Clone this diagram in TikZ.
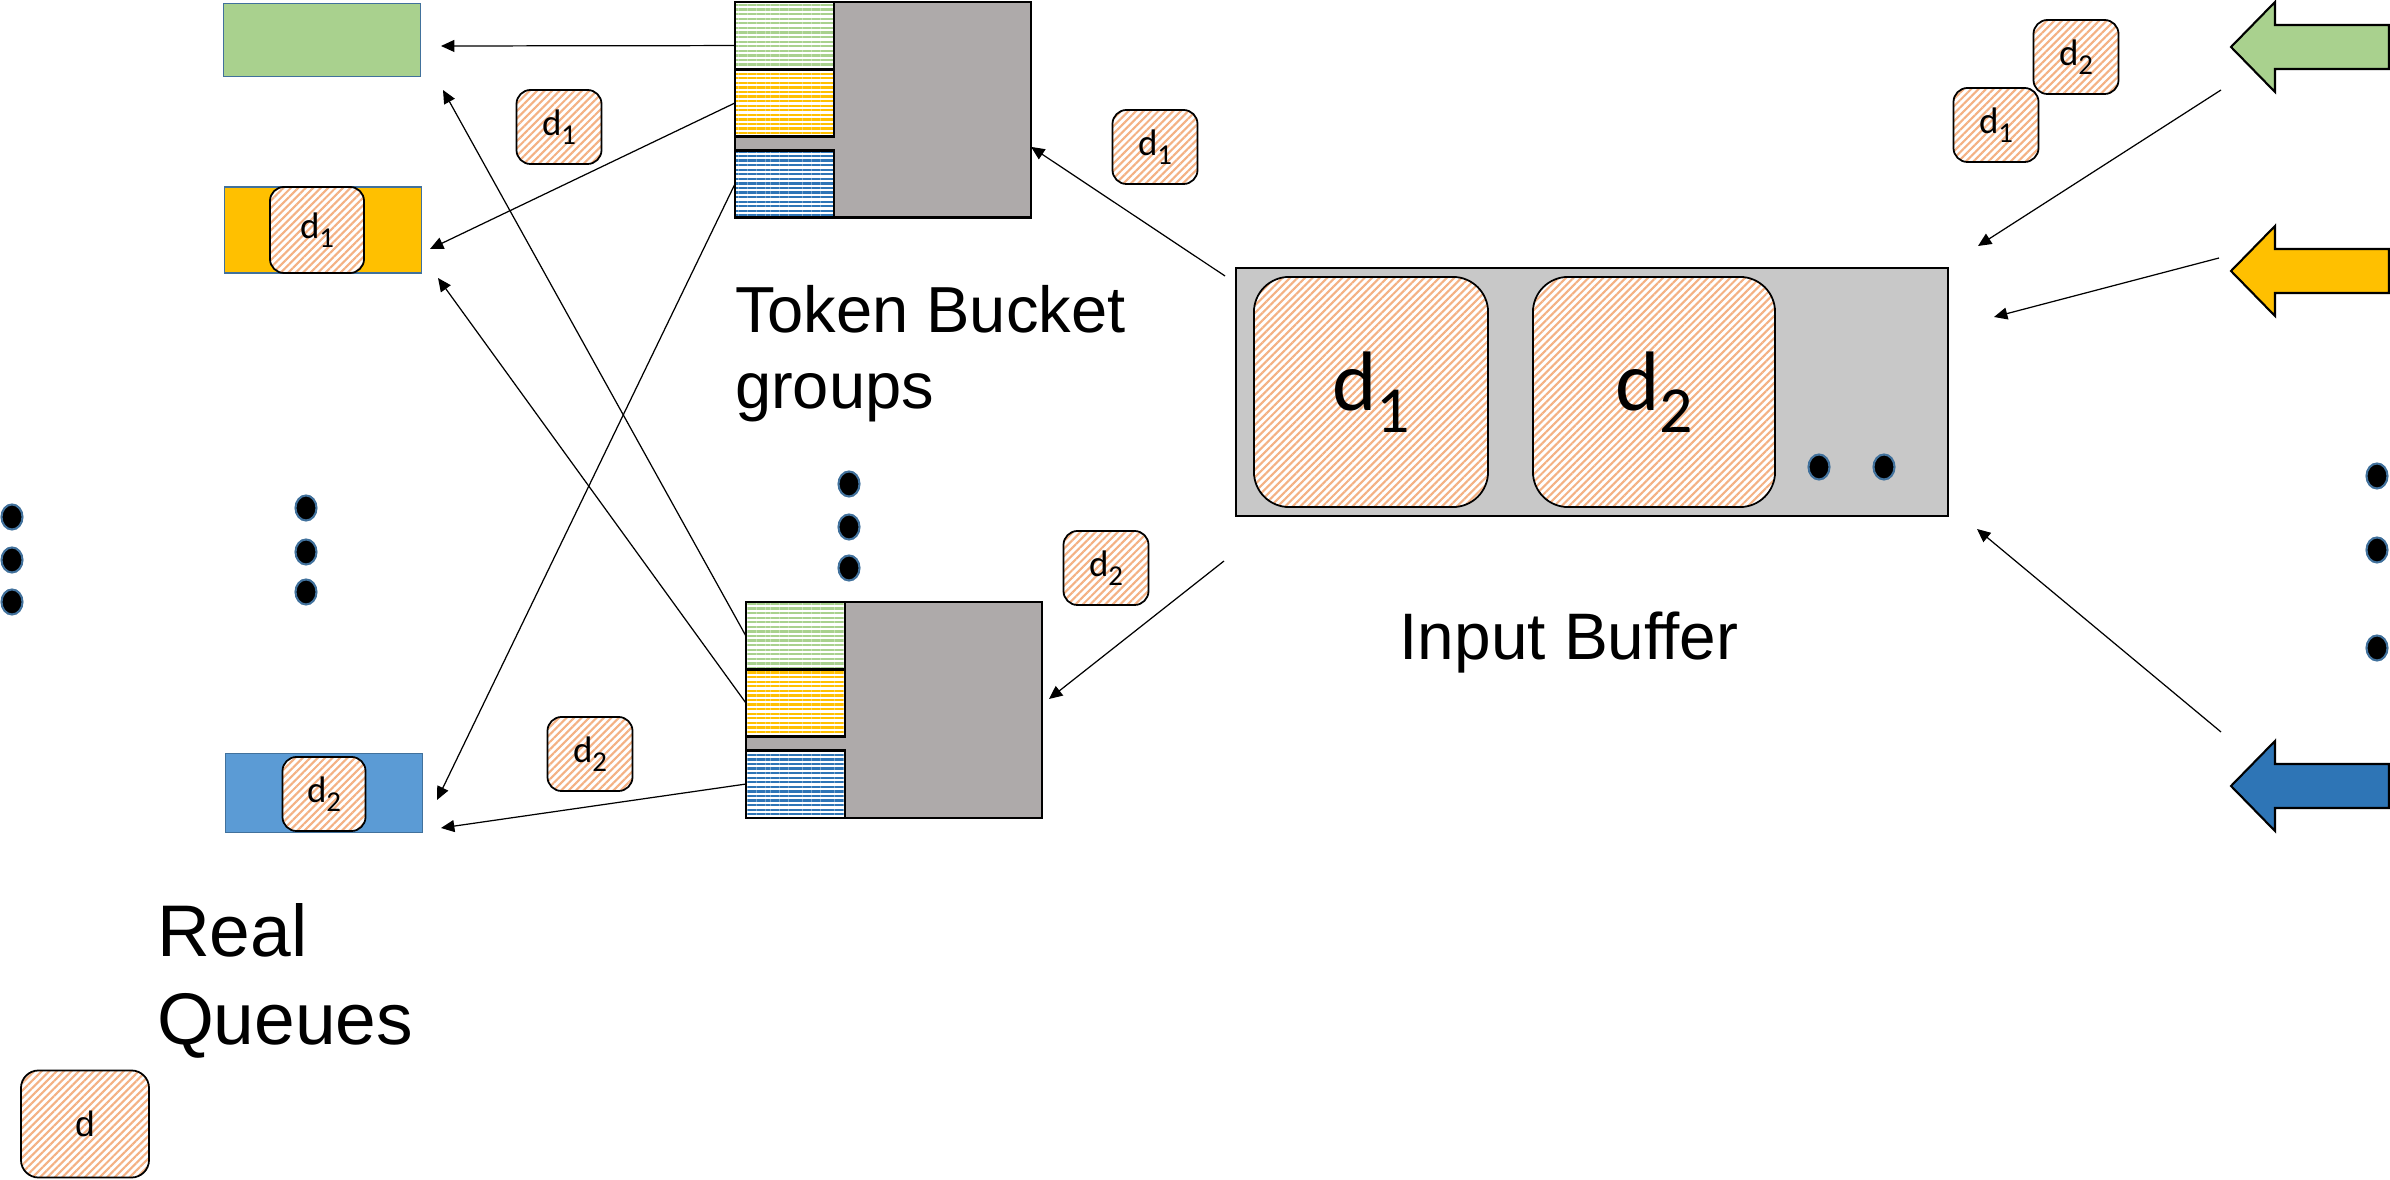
\documentclass[tikz,border=0pt]{standalone}
\usepackage{fontspec}
\setmainfont{Liberation Sans}
\newfontfamily\chipfont{Carlito}
\usepackage{tikz}
\usetikzlibrary{positioning}
\usetikzlibrary{arrows.meta}
\usetikzlibrary{shapes}
\usetikzlibrary{patterns.meta}

\definecolor{qgreen}{HTML}{A9D18E}
\definecolor{qyellow}{HTML}{FFC000}
\definecolor{qblue}{HTML}{5B9BD5}
\definecolor{qborder}{HTML}{41719C}
\definecolor{darkblue}{HTML}{2E75B6}
\definecolor{bucketgray}{HTML}{AEAAAA}
\definecolor{buffergray}{HTML}{C8C8C8}
\definecolor{hatch}{HTML}{F4B183}

\newcommand{\dsub}[1]{d\raisebox{-0.26em}{\scalebox{0.78}{#1}}}

\begin{document}
\begin{tikzpicture}
[   x=0.01cm,
    y=-0.01cm,
    inner sep=0pt,
    outer sep=0pt,
    queue/.style={draw=qborder, line width=0.4pt, minimum width=1.97cm},
    chip/.style={draw, line width=0.5pt, rounded corners=4pt, preaction={fill=white},
        pattern={Lines[angle=45,distance=1.5pt,line width=0.6pt]}, pattern color=hatch,
        minimum width=0.85cm, minimum height=0.74cm, font=\chipfont\fontsize{10.5}{12}\selectfont},
    bigchip/.style={chip, rounded corners=10pt, minimum height=2.3cm, font=\chipfont\fontsize{24}{28}\selectfont},
    bucket/.style={draw, fill=bucketgray, line width=0.6pt, minimum width=2.96cm, minimum height=2.15cm},
    tokens/.style={draw, line width=0.6pt, preaction={fill=white},
        pattern={Lines[angle=0,distance=1.3pt,line width=0.65pt]}, minimum width=0.99cm, minimum height=0.67cm},
    dot/.style={ellipse, fill=black, draw=qborder, line width=0.6pt, minimum width=0.21cm, minimum height=0.25cm},
    flow/.style={-{Triangle[length=3.8pt,width=3.4pt]}, line width=0.35pt},
    heading/.style={align=left, anchor=north west}
]
\useasboundingbox (0,0) rectangle (2390,1180);

\node[queue, fill=qgreen, minimum height=0.73cm] (qg) at (322,40) {};
\node[queue, fill=qyellow, minimum height=0.86cm] (qy) at (323,230) {};
\node[queue, fill=qblue, minimum height=0.79cm] (qb) at (324,793) {};
\node[chip, minimum width=0.94cm, minimum height=0.86cm] (qyd) at (317,230) {\dsub{1}};
\node[chip, minimum width=0.83cm] (qbd) at (324,794) {\dsub{2}};

\node[bucket] (tb) at (883,110) {};
\node[tokens, pattern color=qgreen, anchor=north west] (tbg) at (tb.north west) {};
\node[tokens, pattern color=qyellow, anchor=north west] (tby) at (tbg.south west) {};
\node[tokens, pattern color=darkblue, anchor=south west] (tbb) at (tb.south west) {};

\node[bucket] (bb) at (894,710) {};
\node[tokens, pattern color=qgreen, anchor=north west] (bbg) at (bb.north west) {};
\node[tokens, pattern color=qyellow, anchor=north west] (bby) at (bbg.south west) {};
\node[tokens, pattern color=darkblue, anchor=south west] (bbb) at (bb.south west) {};

\node[draw, fill=buffergray, line width=0.5pt, minimum width=7.12cm, minimum height=2.48cm] (buf) at (1592,392) {};
\node[bigchip, minimum width=2.34cm] (bufd1) at (1371,392) {\dsub{1}};
\node[bigchip, minimum width=2.42cm] (bufd2) at (1654,392) {\dsub{2}};

\node[chip] (qd1) at (559,127) {\dsub{1}};
\node[chip] (qd2) at (590,754) {\dsub{2}};
\node[chip] (td1) at (1155,147) {\dsub{1}};
\node[chip] (bd2) at (1106,568) {\dsub{2}};
\node[chip] (ind2) at (2076,57) {\dsub{2}};
\node[chip] (ind1) at (1996,125) {\dsub{1}};
\node[chip, minimum width=1.28cm, minimum height=1.07cm, rounded corners=5pt, font=\fontsize{10}{12}\selectfont] (legend) at (85,1124) {d};

\foreach \x/\y [count=\i] in {12/517, 12/560, 12/602, 306/508, 306/552, 306/592,
    849/484, 849/527, 849/568, 1819/467, 1884/467, 2377/476, 2377/550, 2377/648}
    \node[dot] (dot\i) at (\x,\y) {};

\node[heading, font=\fontsize{18.5}{21.6}\selectfont] (tbtext) at (735,285) {Token Bucket\\groups};
\node[heading, font=\fontsize{20.8}{25}\selectfont] (rqtext) at (157,904) {Real\\Queues};
\node[anchor=base, font=\fontsize{18.7}{22}\selectfont] (ibtext) at (1569,660) {Input Buffer};

\foreach \y/\c in {47/qgreen, 271/qyellow, 786/darkblue}
    \draw[fill=\c, line width=0.6pt] (2389,\y-22) -- ++(-114,0) -- ++(0,-23) -- ++(-44,45)
        -- ++(44,45) -- ++(0,-23) -- ++(114,0) -- cycle;

\coordinate (t1) at (441,46);
\coordinate (t2) at (430,249);
\coordinate (t3) at (437,800);
\coordinate (t4) at (443,90);
\coordinate (t5) at (438,278);
\coordinate (t6) at (441,828);
\coordinate (s1) at (1225,276);
\coordinate (s2) at (1224,561);
\coordinate (bbin) at (1049,699);
\coordinate (r1) at (2221,90);
\coordinate (r2) at (2219,258);
\coordinate (r3) at (2221,732);
\coordinate (e1) at (1978,246);
\coordinate (e2) at (1994,317);
\coordinate (e3) at (1977,529);

\draw[flow] (tbg.191) -- (t1);
\draw[flow] (tby.west) -- (t2);
\draw[flow] (tbb.west) -- (t3);
\draw[flow] (bbg.west) -- (t4);
\draw[flow] (bby.west) -- (t5);
\draw[flow] (bbb.west) -- (t6);
\draw[flow] (s1) -- (tb.-14);
\draw[flow] (s2) -- (bbin);
\draw[flow] (r1) -- (e1);
\draw[flow] (r2) -- (e2);
\draw[flow] (r3) -- (e3);
\end{tikzpicture}
\end{document}
